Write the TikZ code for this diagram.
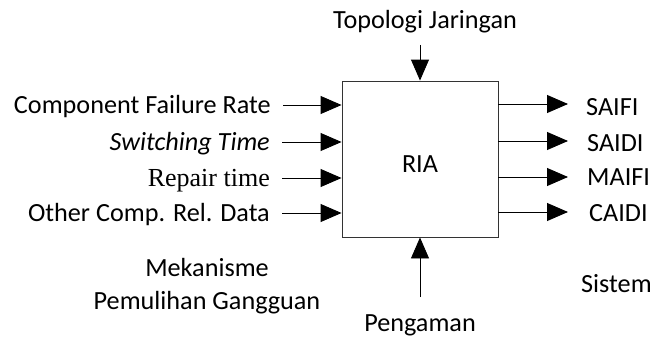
\documentclass[tikz,border=0pt]{standalone}
\usepackage{fontspec}
\setmainfont{Carlito}
\newfontfamily\timesfont{Liberation Serif}
\usetikzlibrary{arrows.meta}
\begin{document}
\begin{tikzpicture}[x=1pt,y=-1pt,
  txt/.style={inner sep=0pt,text height=16.8pt,text depth=0pt,
              font=\fontsize{26.2}{30}\selectfont},
  arr/.style={line width=0.9pt,-{Triangle[length=21pt,width=18pt]}},
  blk/.style={draw=black!80,line width=0.9pt,minimum width=156pt,
              minimum height=156pt,inner sep=0pt}]
\useasboundingbox (0,0) rectangle (655,337);

% central block
\node[blk] (box) at (420,159) {};
\node[txt] (ria) at (420,164.5) {RIA};

% inputs from the left
\node[txt,anchor=east] (in1) at (271,105) {Component Failure Rate};
\node[txt,anchor=east] (in2) at (270,142) {\itshape Switching Time};
\node[txt,anchor=east,text height=17pt,font=\timesfont\fontsize{26}{30}\selectfont] (in3) at (270,178) {Repair time};
\node[txt,anchor=east] (in4) at (270,213) {Other Comp. Rel. Data};
\foreach \i in {1,2,3,4}
  \draw[arr] ([xshift=12pt]in\i.east) -- (in\i -| box.west);

% control from the top, mechanism from the bottom
\node[txt] (topo) at (425,20) {Topologi Jaringan};
\coordinate (topc) at (420,45);
\draw[arr] (topc) -- (box.north);
\node[txt] (peng) at (420,323) {Pengaman};
\coordinate (botc) at (420,297);
\draw[arr] (botc) -- (box.south);

% outputs to the right
\coordinate (o1) at (568,104);
\coordinate (o2) at (568,141);
\coordinate (o3) at (568,177);
\coordinate (o4) at (568,212);
\foreach \i in {1,2,3,4}
  \draw[arr] (o\i -| box.east) -- (o\i);
\node[txt,anchor=west] (r1) at (586,107.5) {SAIFI};
\node[txt,anchor=west] (r2) at (587,143.5) {SAIDI};
\node[txt,anchor=west] (r3) at (587,177.5) {MAIFI};
\node[txt,anchor=west] (r4) at (589,213) {CAIDI};

% remaining labels
\node[txt] (mek) at (207,268.5) {Mekanisme};
\node[txt] (pem) at (207,301.5) {Pemulihan Gangguan};
\node[txt,anchor=west] (sis) at (581,284.5) {Sistem};
\end{tikzpicture}
\end{document}
